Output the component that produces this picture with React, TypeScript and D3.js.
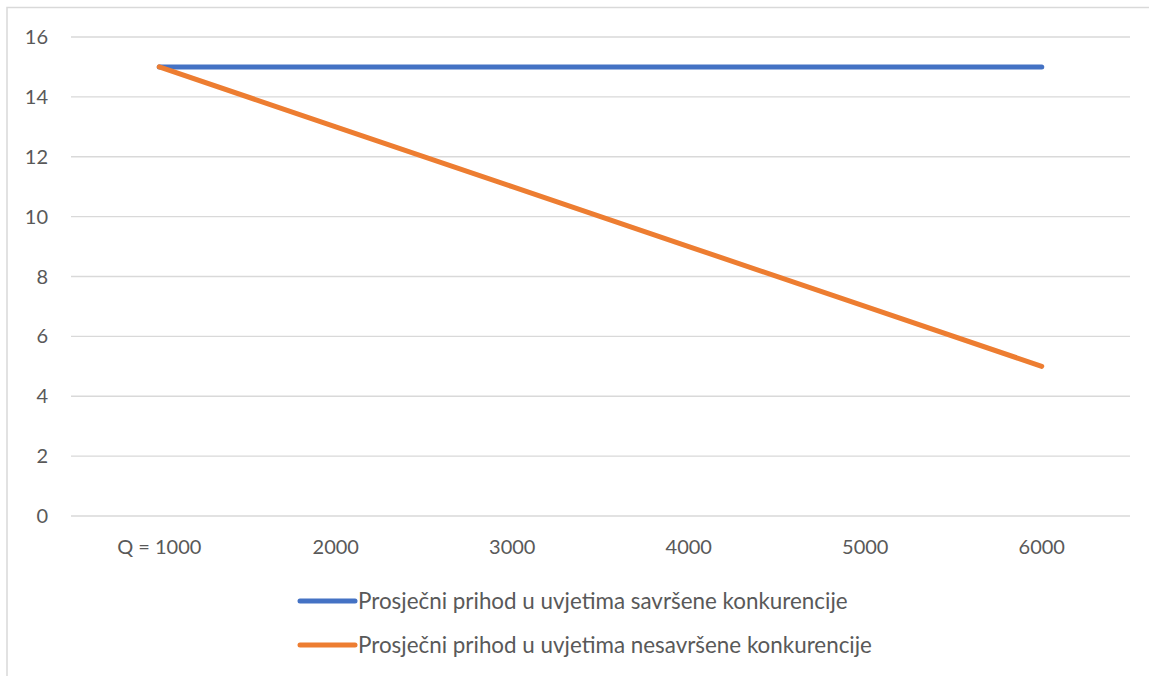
import React from 'react';
import { scaleBand, scaleLinear, line } from 'd3';

const categories = ['Q = 1000', '2000', '3000', '4000', '5000', '6000'];
const perfectCompetition = [15, 15, 15, 15, 15, 15];
const imperfectCompetition = [15, 13, 11, 9, 7, 5];
const yTicks = [0, 2, 4, 6, 8, 10, 12, 14, 16];
const seriesNames = [
  'Prosječni prihod u uvjetima savršene konkurencije',
  'Prosječni prihod u uvjetima nesavršene konkurencije',
];
const seriesColors = ['#4472C4', '#ED7D31'];

const width = 1149;
const height = 676;
const plot = { left: 71, right: 1130, top: 37, bottom: 516 };
const font = 'Lato, "Open Sans", sans-serif';
const textColor = '#595959';

export default function App() {
  const x = scaleBand<string>()
    .domain(categories)
    .range([plot.left, plot.right]);
  const y = scaleLinear().domain([0, 16]).range([plot.bottom, plot.top]);

  const path = line<number>()
    .x((_d, i) => (x(categories[i]) ?? 0) + x.bandwidth() / 2)
    .y(d => y(d));

  const series = [perfectCompetition, imperfectCompetition];

  return (
    <svg
      width={width}
      height={height}
      style={{ position: 'absolute', left: 0, top: 0, background: '#fff' }}
    >
      <rect
        x={7}
        y={7.5}
        width={width + 20}
        height={height + 20}
        fill="#fff"
        stroke="#d9d9d9"
        strokeWidth={1.5}
      />
      {yTicks.map(t => (
        <g key={t}>
          <line
            x1={plot.left}
            x2={plot.right}
            y1={y(t)}
            y2={y(t)}
            stroke="#d9d9d9"
            strokeWidth={1.3}
          />
          <text
            x={48}
            y={y(t)}
            dy="0.35em"
            textAnchor="end"
            fontFamily={font}
            fontSize={20}
            fill={textColor}
          >
            {t}
          </text>
        </g>
      ))}
      {categories.map(c => (
        <text
          key={c}
          x={(x(c) ?? 0) + x.bandwidth() / 2}
          y={547}
          dy="0.35em"
          textAnchor="middle"
          fontFamily={font}
          fontSize={20}
          fill={textColor}
        >
          {c}
        </text>
      ))}
      {series.map((s, i) => (
        <path
          key={i}
          d={path(s) ?? ''}
          fill="none"
          stroke={seriesColors[i]}
          strokeWidth={5}
          strokeLinecap="round"
          strokeLinejoin="round"
        />
      ))}
      {seriesNames.map((name, i) => (
        <g key={name} transform={`translate(0, ${601 + i * 44})`}>
          <line
            x1={300}
            x2={355}
            y1={0}
            y2={0}
            stroke={seriesColors[i]}
            strokeWidth={5}
            strokeLinecap="round"
          />
          <text
            x={358}
            y={0}
            dy="0.35em"
            fontFamily={font}
            fontSize={22.4}
            fill={textColor}
          >
            {name}
          </text>
        </g>
      ))}
    </svg>
  );
}
